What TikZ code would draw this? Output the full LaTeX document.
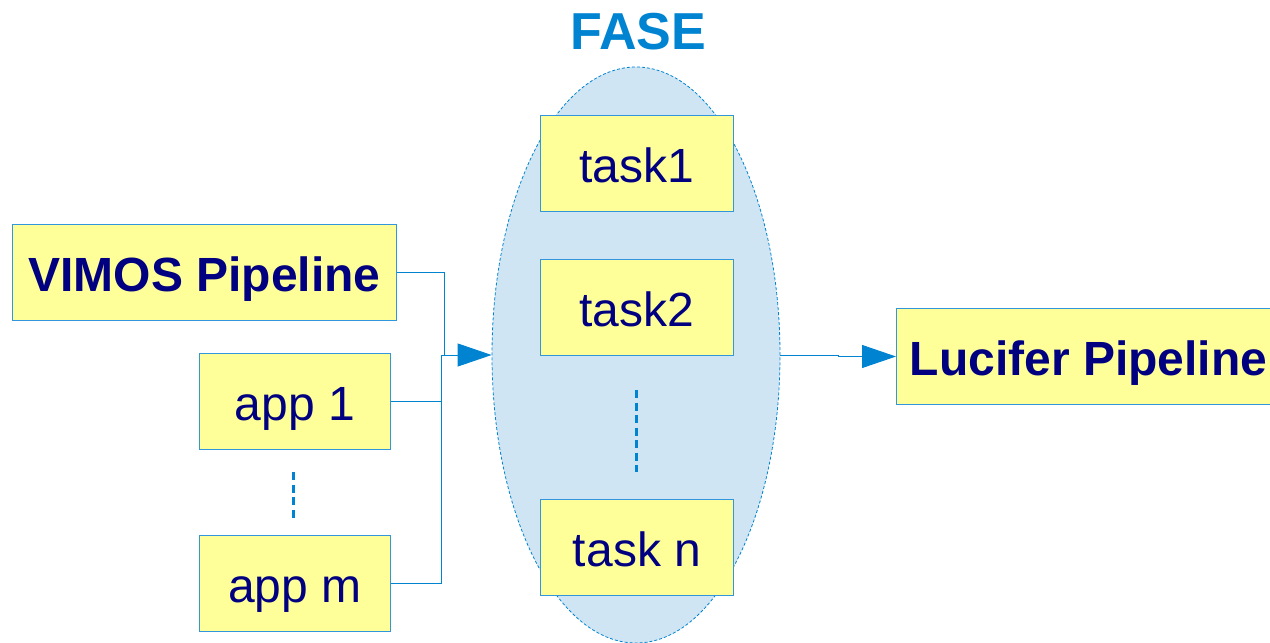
\documentclass[tikz,border=0pt]{standalone}
\usepackage{fontspec}
\setmainfont{Liberation Sans}
\usetikzlibrary{shapes.geometric,arrows.meta}
\definecolor{ablue}{RGB}{0,132,209}
\definecolor{bblue}{RGB}{50,150,220}
\definecolor{efill}{RGB}{207,229,243}
\definecolor{bfill}{RGB}{255,255,153}
\definecolor{navy}{RGB}{0,0,128}
\tikzset{
  box/.style={draw=bblue, line width=1pt, fill=bfill, inner sep=0pt, anchor=north west, text=navy,
    font=\fontsize{48}{56}\selectfont, text height=38.5pt, text depth=0pt},
  conn/.style={draw=ablue, line width=1pt},
  tip/.style={-{Triangle[length=34pt,width=23pt]}},
  vdots/.style={draw=ablue, line width=3pt, dash pattern=on 8pt off 4.5pt},
}
\begin{document}
\begin{tikzpicture}[x=1pt,y=-1pt]
\useasboundingbox (0,0) rectangle (1270,643);
\node[ellipse, draw=ablue, fill=efill, dash pattern=on 3pt off 2pt, line width=0.8pt,
  minimum width=288pt, minimum height=576pt, inner sep=0pt] (ell) at (636,355) {};
\node[text=ablue, font=\fontsize{52}{60}\bfseries] (fase) at (638,32) {FASE};
\node[box, minimum width=193pt, minimum height=96pt] (t1) at (540,115) {task1};
\node[box, minimum width=193pt, minimum height=96pt] (t2) at (540,259) {task2};
\node[box, minimum width=193pt, minimum height=96pt] (tn) at (540,499) {task n};
\coordinate (d1) at (636,390);
\coordinate (d2) at (636,472);
\draw[vdots] (d1) -- (d2);
\node[box, minimum width=384pt, minimum height=96pt, font=\fontsize{48}{56}\bfseries] (vimos) at (12,224) {VIMOS Pipeline};
\node[box, minimum width=191pt, minimum height=96pt] (app1) at (199,353) {app 1};
\node[box, minimum width=191pt, minimum height=96pt] (appm) at (199,535) {app m};
\coordinate (e1) at (293,472);
\coordinate (e2) at (293,518);
\draw[vdots] (e1) -- (e2);
\node[box, minimum width=384pt, minimum height=96pt, font=\fontsize{48}{56}\bfseries] (luc) at (896,308) {Lucifer Pipeline};
\coordinate (j) at (441,355);
\coordinate (jv) at (444,355);
\draw[conn] (vimos.east) -| (jv);
\draw[conn] (appm.east) -| (j);
\draw[conn, tip] (app1.east) -| (j) -- (ell.west);
\coordinate (k) at (838,355);
\draw[conn, tip] (ell.east) -- (k) |- (luc.west);
\end{tikzpicture}
\end{document}
